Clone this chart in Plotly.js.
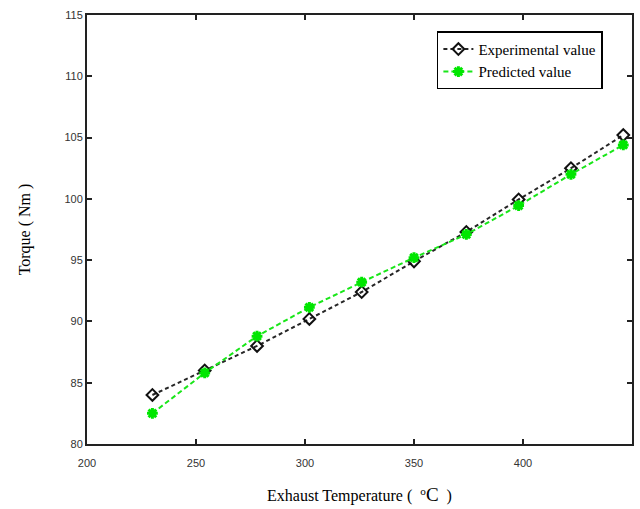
<!DOCTYPE html>
<html>
<head>
<meta charset="utf-8">
<script src="https://cdn.plot.ly/plotly-3.0.1.min.js"></script>
<style>html,body{margin:0;padding:0;background:#fff;}#chart{width:640px;height:509px;}</style>
</head>
<body>
<div id="chart"></div>
<script>
const temperature = [230, 254, 278, 302, 326, 350, 374, 398, 422, 446];
const experimental = [84.0, 86.0, 88.0, 90.2, 92.4, 94.9, 97.3, 99.95, 102.5, 105.2];
const predicted = [82.5, 85.8, 88.8, 91.15, 93.2, 95.2, 97.1, 99.45, 102.0, 104.4];
const xTicks = [200, 250, 300, 350, 400, 450];
const yTicks = [80, 85, 90, 95, 100, 105, 110, 115];

const traces = [
  {
    x: temperature, y: experimental, name: 'Experimental value',
    mode: 'lines+markers', type: 'scatter',
    line: {color: '#262626', width: 2, dash: '4px,3px'},
    marker: {symbol: 'diamond-open', size: 9, color: '#111', line: {width: 2, color: '#111'}}
  },
  {
    x: temperature, y: predicted, name: 'Predicted value',
    mode: 'lines+markers', type: 'scatter',
    line: {color: '#19e619', width: 2, dash: '5px,3px'},
    marker: {symbol: 'asterisk-open', size: 9, color: '#00e600', line: {width: 3, color: '#00e600'}}
  }
];

const axisCommon = {
  showgrid: false, zeroline: false,
  showline: true, linecolor: '#222', linewidth: 2, mirror: 'ticks',
  ticks: 'inside', ticklen: 5, tickwidth: 2, tickcolor: '#222',
  tickfont: {family: 'Liberation Sans, Arial, sans-serif', size: 11, color: '#333'}
};

const layout = {
  width: 640, height: 509,
  margin: {l: 87, r: 8, t: 15, b: 65},
  paper_bgcolor: '#fff', plot_bgcolor: '#fff',
  showlegend: true,
  legend: {
    x: 0.642, y: 0.962, xanchor: 'left', yanchor: 'top',
    bgcolor: '#fff', bordercolor: '#000', borderwidth: 1.5,
    font: {family: 'Liberation Serif, Times New Roman, serif', size: 15, color: '#000'},
    tracegroupgap: 0, itemwidth: 30
  },
  xaxis: Object.assign({}, axisCommon, {
    range: [200, 450], tickvals: xTicks, ticktext: xTicks.map(String),
    ticklabelstandoff: 8,
    title: {text: 'Exhaust Temperature (\u00a0\u00a0<sup>o</sup><span style="font-size:19px">C</span>\u00a0\u00a0)', standoff: 22,
      font: {family: 'Liberation Serif, Times New Roman, serif', size: 16, color: '#000'}}
  }),
  yaxis: Object.assign({}, axisCommon, {
    range: [80, 115], tickvals: yTicks, ticktext: yTicks.map(String),
    title: {text: 'Torque ( Nm )', standoff: 30,
      font: {family: 'Liberation Serif, Times New Roman, serif', size: 16, color: '#000'}}
  })
};

Plotly.newPlot('chart', traces, layout, {displayModeBar: false, staticPlot: true});
</script>
</body>
</html>
